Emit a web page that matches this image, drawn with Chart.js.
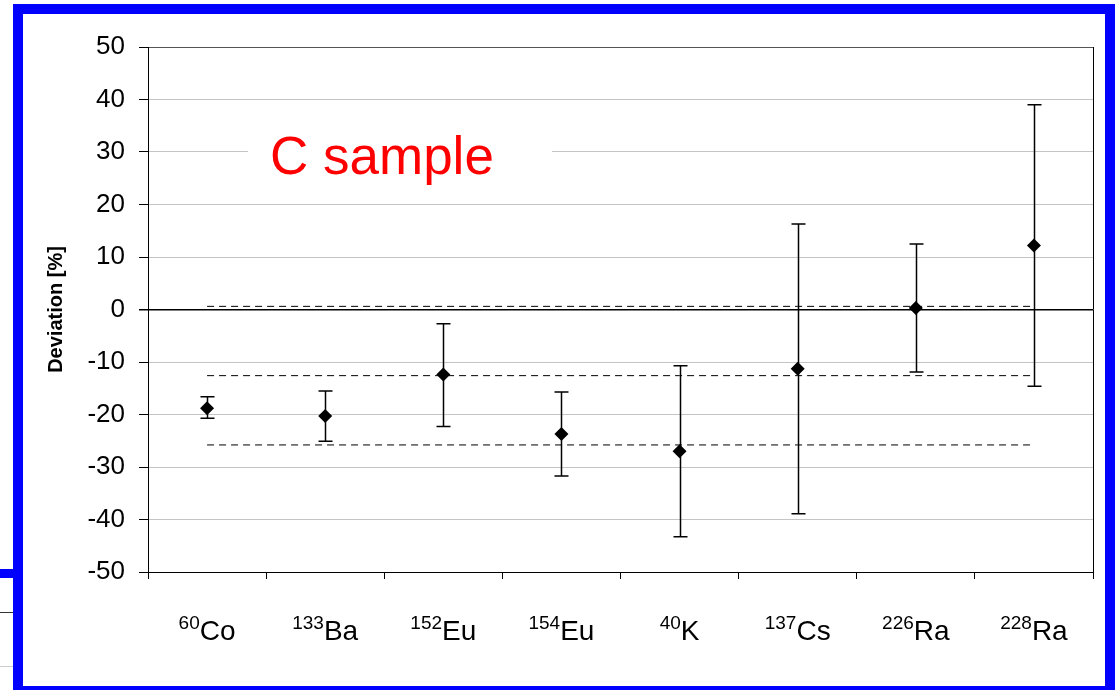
<!DOCTYPE html>
<html>
<head>
<meta charset="utf-8">
<script src="https://cdn.jsdelivr.net/npm/chart.js@4.4.1/dist/chart.umd.min.js"></script>
<style>
  html, body { margin: 0; padding: 0; background: #fff; overflow: hidden; }
  #frame {
    position: absolute; left: 13px; top: 4px; width: 1102px; height: 692px;
    box-sizing: border-box; border: 10px solid #0000ff; background: #fff;
  }
  .stub { position: absolute; left: 0; width: 13px; }
  #wrap { position: absolute; left: 0; top: 0; width: 1115px; height: 690px; }
</style>
</head>
<body>
<div class="stub" style="top:569px;height:9px;background:#0000ff"></div>
<div class="stub" style="top:612px;height:1px;background:#333"></div>
<div class="stub" style="top:666px;height:1px;background:#ccc"></div>
<div id="frame"></div>
<div id="wrap"><canvas id="chart" width="1115" height="690"></canvas></div>
<script>
// isotopes on the x axis: mass number (superscript) + element
const massNumbers = ['60', '133', '152', '154', '40', '137', '226', '228'];
const elements = ['Co', 'Ba', 'Eu', 'Eu', 'K', 'Cs', 'Ra', 'Ra'];

// deviation [%] and its uncertainty range
const deviation = [-18.8, -20.3, -12.4, -23.7, -27.0, -11.3, 0.3, 12.2];
const errLow = [-20.7, -25.1, -22.3, -31.7, -43.3, -38.9, -11.9, -14.6];
const errHigh = [-16.6, -15.5, -2.7, -15.7, -10.7, 16.3, 12.5, 39.0];

// dashed reference lines: upper band, mean, lower band
const refLines = [0.6, -12.6, -25.8];

const yTicks = [50, 40, 30, 20, 10, 0, -10, -20, -30, -40, -50];

const FONT = "'Liberation Sans', Arial, sans-serif";
const labels = massNumbers.map((m, i) => m + elements[i]);

// error bars, sample title box, right frame line
const extras = {
  id: 'extras',
  beforeDatasetsDraw(chart) {
    const { ctx, chartArea: a, scales: { x, y } } = chart;
    ctx.save();
    // title box hides the grid behind it
    ctx.fillStyle = '#fff';
    ctx.fillRect(248, 122, 304, 66);
    ctx.fillStyle = '#ff0000';
    ctx.font = '53px ' + FONT;
    ctx.textBaseline = 'alphabetic';
    ctx.fillText('C sample', 270, 174);

    ctx.strokeStyle = '#000';
    ctx.lineWidth = 1.5;
    deviation.forEach((v, i) => {
      const px = Math.round(x.getPixelForValue(i)) + 0.5;
      const top = y.getPixelForValue(errHigh[i]);
      const bot = y.getPixelForValue(errLow[i]);
      ctx.beginPath();
      ctx.moveTo(px, top); ctx.lineTo(px, bot);
      ctx.moveTo(px - 7, top); ctx.lineTo(px + 7, top);
      ctx.moveTo(px - 7, bot); ctx.lineTo(px + 7, bot);
      ctx.stroke();
    });
    ctx.lineWidth = 1;
    ctx.beginPath();
    ctx.moveTo(Math.round(a.right) + 0.5, a.top);
    ctx.lineTo(Math.round(a.right) + 0.5, a.bottom);
    ctx.stroke();
    ctx.restore();
  },
  afterDraw(chart) {
    const { ctx, scales: { x } } = chart;
    ctx.save();
    ctx.fillStyle = '#000';
    ctx.textBaseline = 'alphabetic';
    massNumbers.forEach((m, i) => {
      const cx = x.getPixelForValue(i);
      ctx.font = '19px ' + FONT;
      const w1 = ctx.measureText(m).width;
      ctx.font = '28px ' + FONT;
      const w2 = ctx.measureText(elements[i]).width;
      const left = cx - (w1 + w2) / 2;
      ctx.font = '19px ' + FONT;
      ctx.fillText(m, left, 629);
      ctx.font = '28px ' + FONT;
      ctx.fillText(elements[i], left + w1, 640);
    });
    ctx.restore();
  }
};

const refDatasets = refLines.map(v => ({
  type: 'line',
  data: labels.map(() => v),
  borderColor: '#000',
  borderWidth: 1,
  borderDash: [7, 5],
  pointRadius: 0,
  fill: false,
  order: 2
}));

new Chart(document.getElementById('chart'), {
  type: 'line',
  data: {
    labels: labels,
    datasets: [{
      data: deviation,
      showLine: false,
      pointStyle: 'rectRot',
      pointRadius: 7,
      pointBackgroundColor: '#000',
      pointBorderColor: '#000',
      pointBorderWidth: 0,
      order: 1
    }, ...refDatasets]
  },
  options: {
    responsive: false,
    animation: false,
    layout: { padding: { top: 47, right: 22, left: 0, bottom: 0 } },
    plugins: { legend: { display: false }, tooltip: { enabled: false } },
    scales: {
      x: {
        offset: true,
        grid: {
          offset: true,
          drawOnChartArea: false,
          drawTicks: true,
          tickLength: 7,
          tickColor: '#000'
        },
        border: { color: '#000', width: 1 },
        ticks: { display: false },
        afterFit: s => { s.height = 118; }
      },
      y: {
        min: -50,
        max: 50,
        afterBuildTicks: s => { s.ticks = yTicks.map(v => ({ value: v })); },
        grid: {
          color: c => c.tick.value === 0 ? '#000' : (c.tick.value === 50 ? '#555' : '#c4c4c4'),
          lineWidth: c => c.tick.value === 0 ? 1.5 : 1,
          tickLength: 9,
          tickColor: '#000'
        },
        border: { color: '#000', width: 1 },
        ticks: {
          color: '#000',
          padding: 14,
          font: { family: FONT, size: 26 }
        },
        title: {
          display: true,
          text: 'Deviation [%]',
          color: '#000',
          font: { family: FONT, size: 20, weight: 'bold' },
          padding: { top: 44, bottom: 0 }
        },
        afterFit: s => { s.width = 148; }
      }
    }
  },
  plugins: [extras]
});
</script>
</body>
</html>
